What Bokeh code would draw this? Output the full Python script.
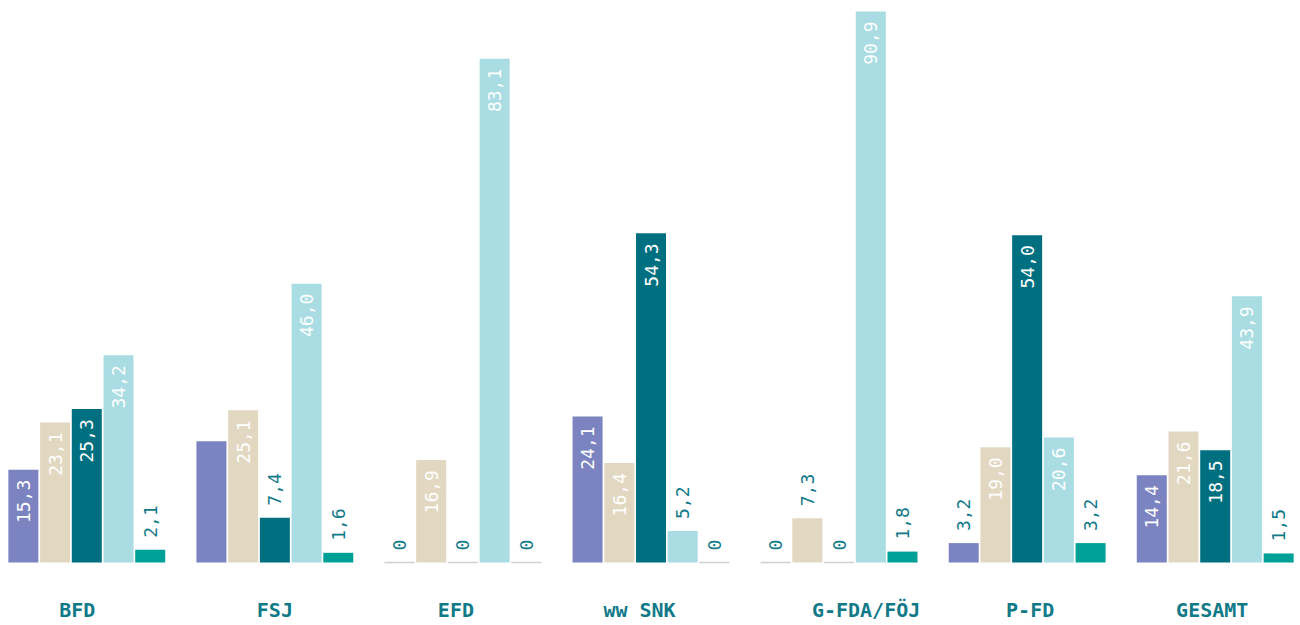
import math
from bokeh.plotting import figure
from bokeh.models import FactorRange, ColumnDataSource
from bokeh.core.properties import value
from bokeh.embed import file_html
from bokeh.resources import INLINE

# ---- data ----
groups = ["BFD", "FSJ", "EFD", "ww SNK", "G-FDA/FÖJ", "P-FD", "GESAMT"]
series = ["A", "B", "C", "D", "E"]
series_a = [15.3, 20.0, 0.0, 24.1, 0.0, 3.2, 14.4]
series_b = [23.1, 25.1, 16.9, 16.4, 7.3, 19.0, 21.6]
series_c = [25.3, 7.4, 0.0, 54.3, 0.0, 54.0, 18.5]
series_d = [34.2, 46.0, 83.1, 5.2, 90.9, 20.6, 43.9]
series_e = [2.1, 1.6, 0.0, 0.0, 1.8, 3.2, 1.5]
series_values = [series_a, series_b, series_c, series_d, series_e]
unlabelled = {("FSJ", "A")}

# ---- style ----
colors = ["#7b83c0", "#e2d8c1", "#006f80", "#a9dde3", "#00a096"]
teal_text = "#117a89"
zero_line = "#d0d0d0"
label_font = "DejaVu Sans Mono"
group_label_nudge = [-9.5, 0, -7, -11.5, 27, 3, -3]   # pixels

xs, tops, fills, lines = [], [], [], []
in_x, in_y, in_t = [], [], []
out_x, out_y, out_t = [], [], []
for gi, g in enumerate(groups):
    for si, s in enumerate(series):
        v = series_values[si][gi]
        xs.append((g, s))
        tops.append(v)
        fills.append(colors[si])
        lines.append(zero_line if v == 0 else None)
        if (g, s) in unlabelled:
            continue
        txt = "0" if v == 0 else f"{v:.1f}".replace(".", ",")
        if v >= 10:
            in_x.append((g, s)); in_y.append(v); in_t.append(txt)
        else:
            out_x.append((g, s)); out_y.append(v); out_t.append(txt)

bars = ColumnDataSource(dict(x=xs, top=tops, fill=fills, line=lines))
inside = ColumnDataSource(dict(x=in_x, y=in_y, text=in_t))
outside = ColumnDataSource(dict(x=out_x, y=out_y, text=out_t))
cats = ColumnDataSource(dict(x=[(g, series[2]) for g in groups],
                             y=[0] * len(groups), text=groups,
                             dx=group_label_nudge))

factors = [(g, s) for g in groups for s in series]
p = figure(
    x_range=FactorRange(*factors, group_padding=0.93, range_padding=0),
    y_range=(-10.39, 92.7),
    width=1300, height=625,
    output_backend="svg", toolbar_location=None,
    min_border_left=7, min_border_right=6, min_border_top=0, min_border_bottom=0,
)
p.outline_line_color = None
p.xgrid.grid_line_color = None
p.ygrid.grid_line_color = None
p.xaxis.visible = False
p.yaxis.visible = False
p.background_fill_color = "white"

p.vbar(x="x", top="top", width=0.946, source=bars,
       fill_color="fill", line_color="line", line_width=1.5)

p.text(x="x", y="y", text="text", source=inside, angle=math.pi / 2,
       text_align="right", text_baseline="middle", y_offset=10,
       text_color="white", text_font=value(label_font), text_font_size="18px")
p.text(x="x", y="y", text="text", source=outside, angle=math.pi / 2,
       text_align="left", text_baseline="middle", y_offset=-12,
       text_color=teal_text, text_font=value(label_font), text_font_size="18px")

p.text(x="x", y="y", text="text", source=cats, x_offset="dx", y_offset=47,
       text_align="center", text_baseline="middle",
       text_color=teal_text, text_font=value(label_font), text_font_size="20px",
       text_font_style="bold")

open("out.html", "w").write(file_html(p, INLINE))
